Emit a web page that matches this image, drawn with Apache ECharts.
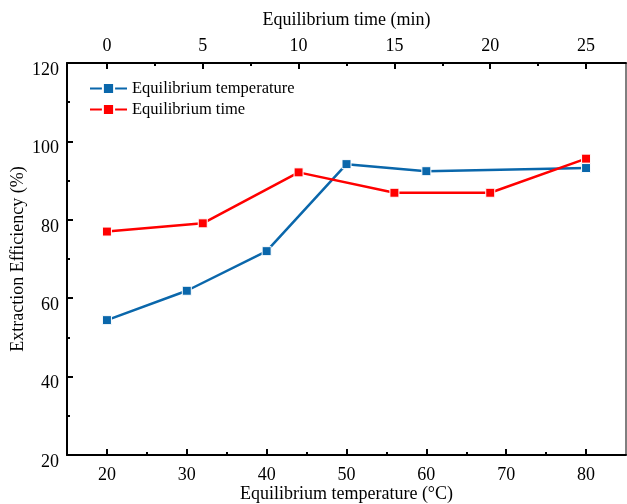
<!DOCTYPE html>
<html>
<head>
<meta charset="utf-8">
<script src="https://cdn.jsdelivr.net/npm/echarts@6/dist/echarts.min.js"></script>
<style>
  html, body { margin: 0; padding: 0; background: #fff; }
  #main { width: 627px; height: 504px; }
</style>
</head>
<body>
<div id="main"></div>
<script>
// data
var temperatures = [20, 30, 40, 50, 60, 80];           // °C
var tempEfficiency = [54.4, 61.9, 72.0, 94.2, 92.4, 93.2];
var times = [0, 5, 10, 15, 20, 25];                     // min
var timeEfficiency = [77.0, 79.1, 92.1, 86.9, 86.9, 95.6];

var tempTicks = [20, 30, 40, 50, 60, 70, 80];
var tempMinorTicks = [25, 35, 45, 55, 65, 75];
var timeTicks = [0, 5, 10, 15, 20, 25];
var timeMinorTicks = [2.5, 7.5, 12.5, 17.5, 22.5];

var FONT = 'Liberation Serif';
var BLUE = '#0a67ab';
var RED = '#ff0000';

// top axis is aligned with bottom: t = (T - 20) / 2.4
var tMin = (15 - 20) / 2.4, tMax = (85 - 20) / 2.4;

function pairs(xs, ys) {
  return xs.map(function (x, i) { return [x, ys[i]]; });
}

var labelStyle = { color: '#000', fontFamily: FONT, fontSize: 18 };

var myChart = echarts.init(document.getElementById('main'));
myChart.setOption({
  animation: false,
  grid: {
    left: 67, right: 1, top: 63, bottom: 49,
    outerBoundsMode: 'none', containLabel: false,
    show: true, borderColor: '#000', borderWidth: 1
  },
  legend: {
    orient: 'vertical',
    left: 84, top: 75,
    itemWidth: 37, itemHeight: 14, itemGap: 4,
    textStyle: { color: '#000', fontFamily: FONT, fontSize: 16.5 },
    data: ['Equilibrium temperature', 'Equilibrium time']
  },
  xAxis: [
    {
      type: 'value', position: 'bottom', min: 15, max: 85,
      name: 'Equilibrium temperature (°C)', nameLocation: 'middle', nameGap: 30,
      nameMoveOverlap: false,
      nameTextStyle: labelStyle,
      axisLine: { onZero: false, lineStyle: { color: '#000', width: 2 } },
      axisTick: { inside: true, length: 6, lineStyle: { width: 2 }, customValues: tempTicks },
      axisLabel: Object.assign({ margin: 11, customValues: tempTicks }, labelStyle),
      splitLine: { show: false }
    },
    {
      type: 'value', position: 'bottom', min: 15, max: 85,
      axisLine: { show: false },
      axisTick: { inside: true, length: 3, lineStyle: { width: 2, color: '#000' }, customValues: tempMinorTicks },
      axisLabel: { show: false },
      splitLine: { show: false }
    },
    {
      type: 'value', position: 'top', min: tMin, max: tMax,
      name: 'Equilibrium time (min)', nameLocation: 'middle', nameGap: 34,
      nameMoveOverlap: false,
      nameTextStyle: labelStyle,
      axisLine: { onZero: false, lineStyle: { color: '#000', width: 2 } },
      axisTick: { inside: true, length: 6, lineStyle: { width: 2 }, customValues: timeTicks },
      axisLabel: Object.assign({ margin: 8, customValues: timeTicks }, labelStyle),
      splitLine: { show: false }
    },
    {
      type: 'value', position: 'top', min: tMin, max: tMax,
      axisLine: { show: false },
      axisTick: { inside: true, length: 3, lineStyle: { width: 2, color: '#000' }, customValues: timeMinorTicks },
      axisLabel: { show: false },
      splitLine: { show: false }
    }
  ],
  yAxis: {
    type: 'value', min: 20, max: 120, interval: 20,
    name: 'Extraction Efficiency (%)', nameLocation: 'middle', nameGap: 40,
    nameMoveOverlap: false,
    nameTextStyle: labelStyle,
    axisLine: { show: true, onZero: false, lineStyle: { color: '#000', width: 2 } },
    axisTick: { show: true, inside: true, length: 6, lineStyle: { width: 2 } },
    minorTick: { show: true, splitNumber: 2, length: 3, lineStyle: { color: '#000', width: 2 } },
    axisLabel: Object.assign({ margin: 8, verticalAlign: 'top', lineHeight: 14 }, labelStyle),
    splitLine: { show: false }
  },
  series: [
    {
      name: 'Equilibrium temperature', type: 'line', xAxisIndex: 0,
      data: pairs(temperatures, tempEfficiency),
      symbol: 'rect', symbolSize: 9,
      lineStyle: { color: BLUE, width: 2.5 },
      itemStyle: { color: BLUE, borderColor: '#fff', borderWidth: 1 }
    },
    {
      name: 'Equilibrium time', type: 'line', xAxisIndex: 2,
      data: pairs(times, timeEfficiency),
      symbol: 'rect', symbolSize: 9,
      lineStyle: { color: RED, width: 2.5 },
      itemStyle: { color: RED, borderColor: '#fff', borderWidth: 1 }
    }
  ]
});
</script>
</body>
</html>
